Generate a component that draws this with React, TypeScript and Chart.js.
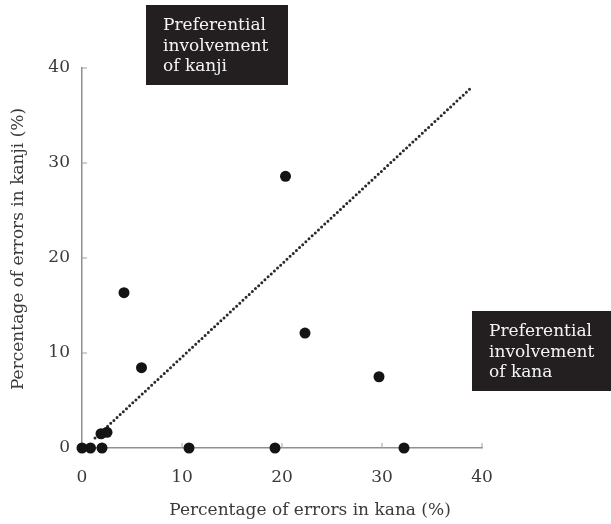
import React, { useEffect, useRef } from "react";
import { Chart, registerables } from "chart.js";

Chart.register(...registerables);

// Data
const kanaErrorPct = [0, 0.85, 2.0, 10.7, 19.3, 32.2, 1.9, 2.5, 4.2, 5.95, 20.35, 22.3, 29.7];
const kanjiErrorPct = [0, 0, 0, 0, 0, 0, 1.5, 1.65, 16.35, 8.45, 28.6, 12.1, 7.5];
const diagonalX = [1.3, 39.0];
const diagonalY = [1.05, 38.0];
const axisTicks = [0, 10, 20, 30, 40];

const xTitle = "Percentage of errors in kana (%)";
const yTitle = "Percentage of errors in kanji (%)";
const kanjiNote = ["Preferential", "involvement", "of kanji"];
const kanaNote = ["Preferential", "involvement", "of kana"];

const FONT = "'DejaVu Serif', 'Liberation Serif', serif";
const TEXT_COLOR = "#3a3a3a";

const decorPlugin = {
  id: "decor",
  afterDraw(chart: any) {
    const ctx = chart.ctx as CanvasRenderingContext2D;
    const xs = chart.scales.x;
    const ys = chart.scales.y;
    const area = chart.chartArea;
    ctx.save();
    // inward tick marks
    ctx.strokeStyle = "#a0a0a0";
    ctx.lineWidth = 1;
    axisTicks.forEach((v) => {
      if (v === 0) return;
      const px = xs.getPixelForValue(v);
      ctx.beginPath();
      ctx.moveTo(px, area.bottom);
      ctx.lineTo(px, area.bottom - 5);
      ctx.stroke();
      const py = ys.getPixelForValue(v);
      ctx.beginPath();
      ctx.moveTo(area.left, py);
      ctx.lineTo(area.left + 5, py);
      ctx.stroke();
    });

    // axis titles
    ctx.fillStyle = TEXT_COLOR;
    ctx.font = `17px ${FONT}`;
    ctx.textAlign = "center";
    ctx.textBaseline = "middle";
    ctx.fillText(xTitle, 310, 511);
    ctx.save();
    ctx.translate(19, 249);
    ctx.rotate(-Math.PI / 2);
    ctx.fillText(yTitle, 0, 0);
    ctx.restore();

    // annotation boxes
    const drawNote = (lines: string[], x: number, y: number, w: number, h: number) => {
      ctx.fillStyle = "#231f20";
      ctx.fillRect(x, y, w, h);
      ctx.fillStyle = "#f4f4f4";
      ctx.textAlign = "left";
      ctx.textBaseline = "alphabetic";
      ctx.font = `17px ${FONT}`;
      lines.forEach((t, i) => ctx.fillText(t, x + 17, y + 25 + i * 20.7));
    };
    drawNote(kanjiNote, 146, 5, 142, 80);
    drawNote(kanaNote, 472, 311, 139, 80);
    ctx.restore();
  },
};

export default function App() {
  const ref = useRef<HTMLCanvasElement | null>(null);

  useEffect(() => {
    document.body.style.margin = "0";
    if (!ref.current) return;
    const tickFont = { family: FONT, size: 17 };
    const chart = new Chart(ref.current, {
      type: "scatter",
      data: {
        datasets: [
          {
            label: "Patients",
            data: kanaErrorPct.map((x, i) => ({ x, y: kanjiErrorPct[i] })),
            backgroundColor: "#141414",
            borderWidth: 0,
            pointRadius: 5.5,
            pointHoverRadius: 5.5,
            clip: false,
          } as any,
          {
            type: "line",
            label: "Equal involvement",
            data: diagonalX.map((x, i) => ({ x, y: diagonalY[i] })),
            borderColor: "#2a2a2a",
            borderWidth: 3,
            borderDash: [0, 4.3],
            borderCapStyle: "round",
            pointRadius: 0,
            fill: false,
            showLine: true,
            clip: false,
          } as any,
        ],
      },
      options: {
        responsive: false,
        animation: false,
        devicePixelRatio: 1,
        layout: { padding: { left: 0, right: 129, top: 68, bottom: 0 } },
        plugins: { legend: { display: false }, tooltip: { enabled: false } },
        scales: {
          x: {
            type: "linear",
            min: 0,
            max: 40,
            afterBuildTicks: (s: any) => {
              s.ticks = axisTicks.map((value) => ({ value }));
            },
            ticks: { font: tickFont, color: TEXT_COLOR, padding: 19 },
            grid: { display: false, drawTicks: false },
            border: { display: true, color: "#8f8f8f", width: 1.5 },
            afterFit: (s: any) => {
              s.height = 76;
            },
          },
          y: {
            type: "linear",
            min: 0,
            max: 40,
            afterBuildTicks: (s: any) => {
              s.ticks = axisTicks.map((value) => ({ value }));
            },
            ticks: { font: tickFont, color: TEXT_COLOR, padding: 12 },
            grid: { display: false, drawTicks: false },
            border: { display: true, color: "#8f8f8f", width: 1.5 },
            afterFit: (s: any) => {
              s.width = 82;
            },
          },
        },
      },
      plugins: [decorPlugin],
    });
    return () => chart.destroy();
  }, []);

  return <canvas ref={ref} width={611} height={524} style={{ display: "block" }} />;
}
